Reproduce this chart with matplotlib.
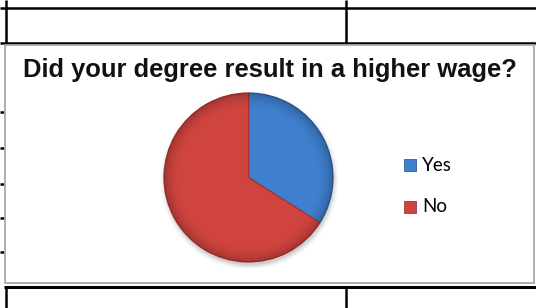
import numpy as np
import matplotlib
matplotlib.use("Agg")
import matplotlib.pyplot as plt
from matplotlib.lines import Line2D
from matplotlib.patches import Rectangle, Circle

# ---- data ----
title = "Did your degree result in a higher wage?"
categories = ["Yes", "No"]
values = [34, 66]
colors = ["#3F7FCE", "#D0443F"]
edge_colors = ["#2D5E9E", "#A83232"]

W, H = 536, 308
DPI = 100
fig = plt.figure(figsize=(W / DPI, H / DPI), dpi=DPI)
fig.patch.set_facecolor("white")

def fx(x):
    return x / W

def fy(y):
    return 1 - y / H

def px2pt(p):
    return p * 72 / DPI

def hline(y, x0, x1, lw, color="black", z=1):
    fig.add_artist(Line2D([fx(x0), fx(x1)], [fy(y), fy(y)], lw=px2pt(lw),
                          color=color, zorder=z, solid_capstyle="butt"))

def vline(x, y0, y1, lw, color="black", z=1):
    fig.add_artist(Line2D([fx(x), fx(x)], [fy(y0), fy(y1)], lw=px2pt(lw),
                          color=color, zorder=z, solid_capstyle="butt"))

# ---- surrounding table lines ----
hline(8, 0, W, 2.5)
hline(43, 0, W, 2.5)
vline(6, 0, 43, 2.5)
vline(345.5, 0, 43, 2.5)
hline(286.5, 4, W, 3)
vline(6, 286, H, 2.5)
vline(345.5, 286, H, 2.5)
for yy in [112, 148, 184, 218, 252]:
    hline(yy, 0, 4, 2.5)

# ---- chart box ----
box = Rectangle((fx(5), fy(283)), fx(534) - fx(5), fy(45) - fy(283),
                transform=fig.transFigure, facecolor="white",
                edgecolor="#A8A8A8", lw=px2pt(1.8), zorder=2)
fig.add_artist(box)

# ---- title ----
fig.text(fx(269.5), fy(77), title, ha="center", va="baseline",
         fontsize=18.4, fontweight="bold", family="Liberation Sans",
         color="#111111", zorder=5)

# ---- pie ----
cx, cy, r = 248.5, 177.5, 84.5
pad = 6
ax = fig.add_axes([fx(cx - r - pad), fy(cy + r + pad),
                   (2 * (r + pad)) / W, (2 * (r + pad)) / H], zorder=4)

wedges, _ = ax.pie(values, colors=colors, startangle=90, counterclock=False,
                   radius=1.0, wedgeprops=dict(linewidth=0.9))
for w, ec in zip(wedges, edge_colors):
    w.set_edgecolor(ec)
    w.set_zorder(2)

ax.set_xlim(-(r + pad) / r, (r + pad) / r)
ax.set_ylim(-(r + pad) / r, (r + pad) / r)
ax.set_aspect("equal")
ax.axis("off")

# soft shadow
for i, a in enumerate(np.linspace(0.05, 0.012, 6)):
    ax.add_patch(Circle((0.01, -0.035), 1.0 + 0.012 * i, facecolor="black",
                        edgecolor="none", alpha=a, zorder=0))

# radial shading overlay (darker near rim)
n = 300
g = np.linspace(-1, 1, n)
X, Y = np.meshgrid(g, g)
R = np.sqrt(X ** 2 + Y ** 2)
shade = np.zeros((n, n, 4))
shade[..., 3] = np.clip((R - 0.8) / 0.2, 0, 1) ** 2 * 0.22
im = ax.imshow(shade, extent=(-1, 1, -1, 1), origin="lower", zorder=3,
               interpolation="bilinear")
clip = Circle((0, 0), 1.0, transform=ax.transData)
im.set_clip_path(clip)
ax.set_xlim(-(r + pad) / r, (r + pad) / r)
ax.set_ylim(-(r + pad) / r, (r + pad) / r)

# ---- legend ----
leg_y = [165.5, 207]
for cat, col, ec, ly in zip(categories, colors, edge_colors, leg_y):
    sq = Rectangle((fx(404), fy(ly + 6)), 12 / W, 12 / H,
                   transform=fig.transFigure, facecolor=col,
                   edgecolor=ec, lw=0.6, zorder=5)
    fig.add_artist(sq)
    fig.text(fx(422), fy(ly + 5.5), cat, ha="left", va="baseline",
             fontsize=13.5, family="Lato", color="black", zorder=5)

fig.savefig("out.png", dpi=DPI, facecolor="white")
